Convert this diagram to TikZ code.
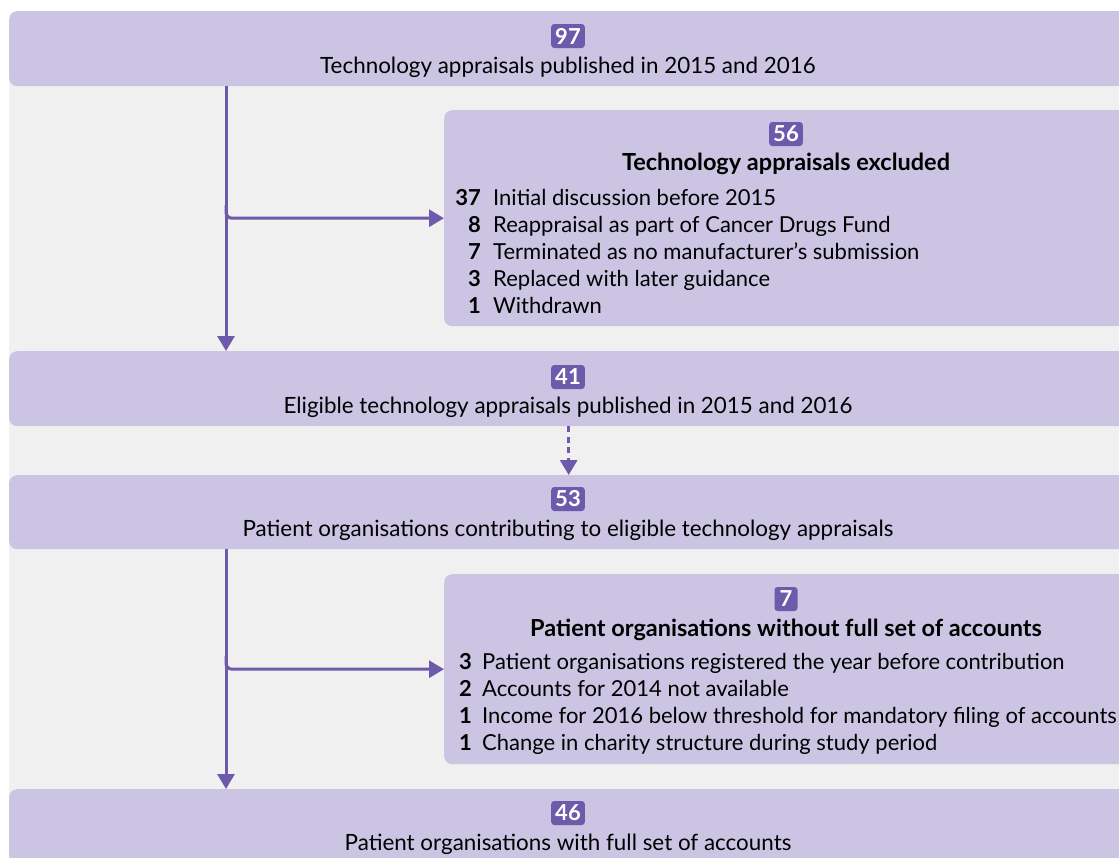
\documentclass[tikz,border=0pt]{standalone}
\usepackage{fontspec}
\setmainfont{Lato}
\usetikzlibrary{arrows.meta,positioning}

\definecolor{boxlilac}{HTML}{CBC5E3}
\definecolor{flowpurple}{HTML}{6D5AAA}
\definecolor{panelgrey}{HTML}{F0F0F0}

\tikzset{
  box/.style={fill=boxlilac,rounded corners=8pt,anchor=north west,inner sep=0pt,minimum width=1119pt},
  badge/.style={fill=flowpurple,text=white,font=\fontsize{22}{24}\selectfont\bfseries,rounded corners=3pt,
    inner xsep=4pt,inner ysep=0pt,minimum height=24pt,minimum width=23pt},
  main/.style={font=\fontsize{22.4}{26}\selectfont,anchor=base,inner sep=0pt},
  head/.style={font=\fontsize{23.5}{27}\selectfont\bfseries,anchor=base,inner sep=0pt},
  num/.style={font=\fontsize{22}{26}\selectfont\bfseries,anchor=base east,inner sep=0pt},
  item/.style={font=\fontsize{22}{26}\selectfont,anchor=base west,inner sep=0pt},
  flow/.style={draw=flowpurple,line width=3pt,-{Triangle[length=15pt,width=17pt]}}
}

\begin{document}
\begin{tikzpicture}[x=1pt,y=-1pt]
\useasboundingbox (0,0) rectangle (1119,857);
\clip (0,0) rectangle (1119,857);
\fill[panelgrey] (9,48) rectangle (1119,857);

% boxes
\node[box,minimum height=75pt] (pub) at (9,11) {};
\node[box,minimum height=216pt,minimum width=684pt] (excl) at (444,110) {};
\node[box,minimum height=75pt] (elig) at (9,351) {};
\node[box,minimum height=74pt] (porg) at (9,475) {};
\node[box,minimum height=190pt,minimum width=684pt] (noacc) at (444,574) {};
\node[box,minimum height=75pt] (full) at (9,789) {};

% counts and texts
\node[badge] (pubn) at (568,36) {97};
\node[main] (pubt) at (568,73) {Technology appraisals published in 2015 and 2016};

\node[badge] (excln) at (786,134) {56};
\node[head] (exclt) at (786,170) {Technology appraisals excluded};
\foreach \n/\t [count=\i] in {37/Initial discussion before 2015,
    8/Reappraisal as part of Cancer Drugs Fund,
    7/Terminated as no manufacturer’s submission,
    3/Replaced with later guidance,
    1/Withdrawn}{
  \node[num] (excln\i) at (481,{205.5+27*(\i-1)}) {\n};
  \node[item] (exclt\i) at (493,{205.5+27*(\i-1)}) {\t};
}

\node[badge] (elign) at (568,377) {41};
\node[main] (eligt) at (568,413) {Eligible technology appraisals published in 2015 and 2016};

\node[badge] (porgn) at (568,499) {53};
\node[main] (porgt) at (568,536) {Patient organisations contributing to eligible technology appraisals};

\node[badge] (noaccn) at (786,599) {7};
\node[head] (noacct) at (786,636) {Patient organisations without full set of accounts};
\foreach \n/\t [count=\i] in {3/Patient organisations registered the year before contribution,
    2/Accounts for 2014 not available,
    1/Income for 2016 below threshold for mandatory filing of accounts,
    1/Change in charity structure during study period}{
  \node[num] (noaccn\i) at (472,{669+27*(\i-1)}) {\n};
  \node[item] (noacct\i) at (482,{669+27*(\i-1)}) {\t};
}

\node[badge] (fulln) at (568,813) {46};
\node[main] (fullt) at (568,850) {Patient organisations with full set of accounts};

% connectors
\coordinate (spine) at (226,0);
\coordinate (br1) at (226,205);
\coordinate (br2) at (226,656);
\draw[flow] (pub.south -| spine) -- (elig.north -| spine);
\draw[flow,rounded corners=6pt] (br1) |- (excl.west);
\draw[flow,dash pattern=on 6pt off 4.5pt] (elig.south) -- (porg.north);
\draw[flow] (porg.south -| spine) -- (full.north -| spine);
\draw[flow,rounded corners=6pt] (br2) |- (noacc.west);
\end{tikzpicture}
\end{document}
